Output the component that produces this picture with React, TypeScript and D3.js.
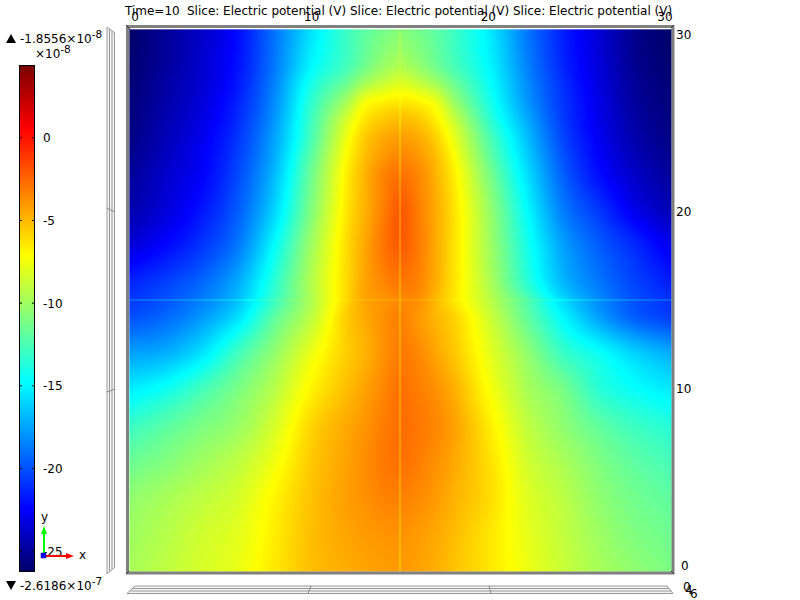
import React, { useMemo } from "react";
import * as d3 from "d3";

const xCoords = [0, 2, 4, 6, 8, 10, 12, 13, 14, 15, 16, 17, 18, 20, 22, 24, 26, 28, 30];
const yCoords = [0, 2, 4, 6, 8, 10, 12, 14, 15, 16, 18, 20, 22, 23, 24, 25, 26, 27, 28, 30];
const row0 = [-9.7, -9, -8.3, -7.7, -6.4, -5.2, -4.6, -4.4, -4.2, -4.1, -4.3, -4.7, -5.3, -6.4, -7.6, -8.7, -9.7, -10.4, -11];
const row2 = [-10, -9.3, -8.5, -7.9, -6.6, -5.2, -4.4, -4.1, -3.9, -3.8, -4.1, -4.5, -5.1, -6.4, -7.8, -8.9, -10, -10.9, -11.4];
const row4 = [-10.4, -9.7, -9, -8.3, -6.8, -5.3, -4.2, -3.8, -3.4, -3.3, -3.6, -4.1, -4.8, -6.1, -8, -9.1, -10.4, -11.3, -11.9];
const row6 = [-11.5, -10.8, -9.9, -9, -7.5, -5.5, -4.3, -3.7, -3.1, -2.8, -3.2, -3.8, -4.5, -6.2, -8.4, -9.6, -10.9, -11.9, -12.6];
const row8 = [-13, -12, -11, -10.1, -8.3, -5.9, -4.5, -3.9, -3.2, -2.7, -3, -3.5, -4.3, -6.6, -8.9, -10.4, -11.8, -12.9, -13.6];
const row10 = [-15.2, -14.2, -12.6, -11, -9.2, -6.8, -5.1, -4.3, -3.5, -2.8, -3.2, -3.8, -4.7, -7.3, -9.6, -11.1, -13.4, -14.5, -15.3];
const row12 = [-17.5, -17, -15.4, -12.7, -10.3, -7.7, -5.6, -4.8, -3.8, -3.1, -3.5, -4.4, -5.4, -7.9, -10.3, -12.9, -14.4, -16, -17.2];
const row14 = [-20, -19.2, -17.7, -15.5, -11.9, -9.1, -5.6, -4.6, -3.8, -3.3, -4, -4.9, -5.8, -8.6, -11.7, -14.8, -17.5, -19.5, -20.5];
const row15 = [-20.8, -19.9, -18.6, -16.6, -13, -9.6, -5.9, -4.4, -3.9, -3.5, -3.7, -5, -6.4, -9.2, -12.3, -15.8, -18.2, -20, -21];
const row16 = [-21.4, -20.5, -19.3, -17.2, -13.5, -9.5, -6, -4.4, -3.5, -3, -3.4, -4.7, -6.3, -9.6, -13.4, -16.8, -18.8, -20.4, -21.6];
const row18 = [-23.4, -22.2, -20.8, -18.7, -14.7, -10.1, -6.1, -4.5, -3, -2.2, -3.1, -4.6, -6.3, -10, -14, -17.5, -19.6, -21.2, -22.9];
const row20 = [-24.5, -23.3, -21.8, -19.6, -16, -11, -6.4, -4.8, -3.3, -2.1, -3.2, -4.6, -6.3, -10.3, -14.7, -18.6, -20.8, -22.9, -24.3];
const row22 = [-25, -23.7, -22.5, -20.2, -16.8, -11.6, -6.7, -4.9, -3.5, -2.9, -3.5, -4.9, -6.7, -11.2, -15.6, -19.5, -22.1, -23.8, -25];
const row23 = [-25.3, -24, -22.6, -20.5, -17.2, -12.1, -7.1, -5.2, -4.1, -3.5, -4, -5.2, -7.2, -11.9, -16.1, -19.9, -22.4, -24.2, -25.3];
const row24 = [-25.5, -24.2, -22.8, -20.8, -17.5, -12.7, -7.6, -5.6, -4.6, -4.2, -4.6, -5.8, -7.9, -12.5, -16.6, -20.3, -22.7, -24.5, -25.5];
const row25 = [-25.65, -24.4, -23.1, -21.1, -17.9, -13, -8.4, -6.4, -5.5, -5.1, -5.5, -6.7, -8.8, -13.4, -17.2, -20.6, -22.9, -24.7, -25.65];
const row26 = [-25.8, -24.6, -23.3, -21.4, -18.2, -13.5, -9.8, -7.5, -6.8, -6.5, -6.8, -7.8, -10.2, -14.1, -17.8, -20.8, -23, -24.9, -25.8];
const row27 = [-25.9, -24.7, -23.5, -21.7, -18.5, -14.2, -11.5, -9.8, -8.8, -8.1, -8.8, -9.9, -11.5, -14.6, -18.1, -21, -23.2, -25, -25.9];
const row28 = [-26, -24.9, -23.6, -21.9, -18.8, -15, -12.7, -11.4, -10.2, -9.6, -10.3, -11.4, -12.6, -15, -18.4, -21.3, -23.3, -25.2, -26];
const row30 = [-26.2, -25, -23.8, -22.1, -19, -15.7, -13, -12, -11.3, -10.8, -11.3, -12, -13, -15.4, -18.8, -21.5, -23.5, -25.3, -26.2];
const field = [row0, row2, row4, row6, row8, row10, row12, row14, row15, row16, row18, row20, row22, row23, row24, row25, row26, row27, row28, row30];

const colorStops = [-26.2, -22.4, -14.7, -7.1, 0.6, 4.4];
const colorValues = ["#000068", "#0000ff", "#00ffff", "#ffff00", "#ff0000", "#7a0000"];
const barTicks = [0, -5, -10, -15, -20, -25];
const topTicks = [0, 10, 20, 30];
const rightTicks = [0, 10, 20, 30];
const titleLead = "Time=10";
const titleSlice = "Slice: Electric potential (V) Slice: Electric potential (V) Slice: Electric potential (V)";

const FONT = "'DejaVu Sans', sans-serif";
const color = d3.scaleLinear<string>().domain(colorStops).range(colorValues).clamp(true);
const sx = d3.scaleLinear().domain([0, 30]).range([130, 671]);
const sy = d3.scaleLinear().domain([0, 30]).range([571, 29]);
const sBar = d3.scaleLinear().domain([-26.2, 4.4]).range([571, 65]);
const topTickX = d3.scaleLinear().domain([0, 30]).range([135, 665]);
const rightTickY = d3.scaleLinear().domain([0, 30]).range([565, 34]);

function slopes(xs: number[], ys: number[]) {
  return ys.map((_, i) => {
    if (i === 0) return (ys[1] - ys[0]) / (xs[1] - xs[0]);
    if (i === ys.length - 1) return (ys[i] - ys[i - 1]) / (xs[i] - xs[i - 1]);
    return (ys[i + 1] - ys[i - 1]) / (xs[i + 1] - xs[i - 1]);
  });
}
function hermite(xs: number[], ys: number[], ms: number[], x: number) {
  const c = Math.max(xs[0], Math.min(xs[xs.length - 1], x));
  let i = d3.bisectRight(xs, c) - 1;
  if (i >= xs.length - 1) i = xs.length - 2;
  const h = xs[i + 1] - xs[i];
  const t = (c - xs[i]) / h;
  const t2 = t * t, t3 = t2 * t;
  return (2 * t3 - 3 * t2 + 1) * ys[i] + (t3 - 2 * t2 + t) * h * ms[i] + (-2 * t3 + 3 * t2) * ys[i + 1] + (t3 - t2) * h * ms[i + 1];
}

function useFieldImage(x0: number, y0: number, w: number, h: number) {
  return useMemo(() => {
    const canvas = document.createElement("canvas");
    canvas.width = w;
    canvas.height = h;
    const ctx = canvas.getContext("2d")!;
    const img = ctx.createImageData(w, h);
    const rowSlopes = field.map((r) => slopes(xCoords, r));
    for (let px = 0; px < w; px++) {
      const u = sx.invert(x0 + px + 0.5);
      const col = field.map((r, i) => hermite(xCoords, r, rowSlopes[i], u));
      const ms = slopes(yCoords, col);
      for (let py = 0; py < h; py++) {
        const yy = y0 + py;
        const ax = x0 + px;
        let v = hermite(yCoords, col, ms, sy.invert(yy + 0.5));
        if (ax === 399 || ax === 400) v = v * 0.75 + -8 * 0.25;
        else if (yy === 299 || yy === 300) v = v * 0.9 + -8 * 0.1;
        const c = d3.rgb(color(v));
        const k = (py * w + px) * 4;
        img.data[k] = c.r;
        img.data[k + 1] = c.g;
        img.data[k + 2] = c.b;
        img.data[k + 3] = 255;
      }
    }
    ctx.putImageData(img, 0, 0);
    return canvas.toDataURL();
  }, []);
}

const textStyle = { fontFamily: FONT, fontSize: 12, fill: "#000" } as const;

function Sci({ x, y, m, e }: { x: number; y: number; m: string; e: string }) {
  return (
    <text x={x} y={y} style={textStyle}>
      {m}×10<tspan dy={-5} fontSize={10.5}>{e}</tspan>
    </text>
  );
}

export default function App() {
  const href = useFieldImage(129, 29, 543, 543);
  const sideLines = [0, 1, 2, 3];
  return (
    <svg width={800} height={600} style={{ position: "absolute", left: 0, top: 0, display: "block", background: "#fff" }}>
      <defs>
        <linearGradient id="bar" x1="0" y1="1" x2="0" y2="0">
          {colorStops.map((s, i) => (
            <stop key={i} offset={(s + 26.2) / 30.6} stopColor={colorValues[i]} />
          ))}
        </linearGradient>
      </defs>

      {/* left side wall */}
      <polygon points="107,27 115,33 115,567 107,574" fill="#f4f4f4" />
      {sideLines.map((i) => (
        <line key={i} x1={107 + i * 2.5} y1={27 + i * 2} x2={107 + i * 2.5} y2={574 - i * 2.3} stroke="#999" strokeWidth={1} />
      ))}
      <line x1={107} y1={27} x2={115} y2={33} stroke="#999" />
      <line x1={107} y1={574} x2={115} y2={567} stroke="#999" />
      <line x1={107} y1={208} x2={115} y2={212} stroke="#888" />
      <line x1={107} y1={392} x2={115} y2={389} stroke="#888" />

      {/* bottom wall */}
      <polygon points="135,586 668,586 673,593.5 127,593.5" fill="#f4f4f4" />
      {sideLines.map((i) => (
        <line key={i} x1={135 - i * 2.7} y1={586 + i * 2.5} x2={667 + i * 2} y2={586 + i * 2.5} stroke="#999" strokeWidth={1} />
      ))}
      <line x1={135} y1={586} x2={127} y2={593.5} stroke="#999" />
      <line x1={667} y1={586} x2={673} y2={593.5} stroke="#999" />
      <line x1={311} y1={586} x2={308} y2={593.5} stroke="#888" />
      <line x1={489} y1={586} x2={491} y2={593.5} stroke="#888" />

      {/* main slice */}
      <image href={href} x={129} y={29} width={543} height={543} style={{ imageRendering: "pixelated" }} />
      <rect x={129.5} y={29.5} width={542} height={542} fill="none" stroke="#fff" strokeOpacity={0.35} />
      <rect x={127.5} y={26.5} width={545.5} height={546.5} fill="none" stroke="#808080" strokeWidth={3} />
      <line x1={126} y1={25} x2={130} y2={29} stroke="#222" strokeWidth={0.8} />
      <line x1={674} y1={25} x2={671} y2={28} stroke="#222" strokeWidth={0.8} />
      <line x1={126} y1={574} x2={129} y2={571} stroke="#222" strokeWidth={0.8} />
      <line x1={674} y1={574} x2={671} y2={571} stroke="#222" strokeWidth={0.8} />

      {/* title and box ticks */}
      <text x={125} y={15} style={textStyle}>{titleLead}</text>
      <text x={187} y={15} style={textStyle}>{titleSlice}</text>
      {topTicks.map((t) => (
        <text key={t} x={topTickX(t)} y={20.5} textAnchor="middle" style={textStyle}>{t}</text>
      ))}
      {rightTicks.map((t) => (
        <text key={t} x={t === 0 ? 681 : 676} y={rightTickY(t) + 4.5} style={textStyle}>{t}</text>
      ))}
      <text x={683} y={591} style={textStyle}>0</text>
      <text x={685} y={594} style={textStyle}>4</text>
      <text x={690} y={598} style={textStyle}>6</text>

      {/* colour bar */}
      <rect x={19.5} y={65.5} width={15} height={506} fill="url(#bar)" stroke="#000" />
      {barTicks.map((t) => (
        <g key={t}>
          <line x1={19} y1={sBar(t)} x2={22} y2={sBar(t)} stroke="#000" />
          <line x1={32} y1={sBar(t)} x2={35} y2={sBar(t)} stroke="#000" />
          <text x={43} y={sBar(t) + 4.5} style={textStyle}>{t}</text>
        </g>
      ))}
      <polygon points="6,43 16,43 11,34" fill="#000" />
      <Sci x={20} y={43} m="-1.8556" e="-8" />
      <Sci x={35} y={58} m="" e="-8" />
      <polygon points="6,581 16,581 11,590" fill="#000" />
      <Sci x={20} y={590} m="-2.6186" e="-7" />

      {/* axis triad */}
      <line x1={44} y1={555} x2={44} y2={530} stroke="#00ff00" strokeWidth={2} />
      <polygon points="44,526 41,534 47,534" fill="#00ff00" />
      <line x1={44} y1={556} x2={70} y2={556} stroke="#ff0000" strokeWidth={2} />
      <polygon points="74,556 66,553 66,559" fill="#ff0000" />
      <rect x={41} y={553} width={5} height={5} fill="#0000ff" stroke="#000080" strokeWidth={0.5} />
      <text x={41} y={521} style={textStyle}>y</text>
      <text x={79} y={559} style={textStyle}>x</text>
    </svg>
  );
}
